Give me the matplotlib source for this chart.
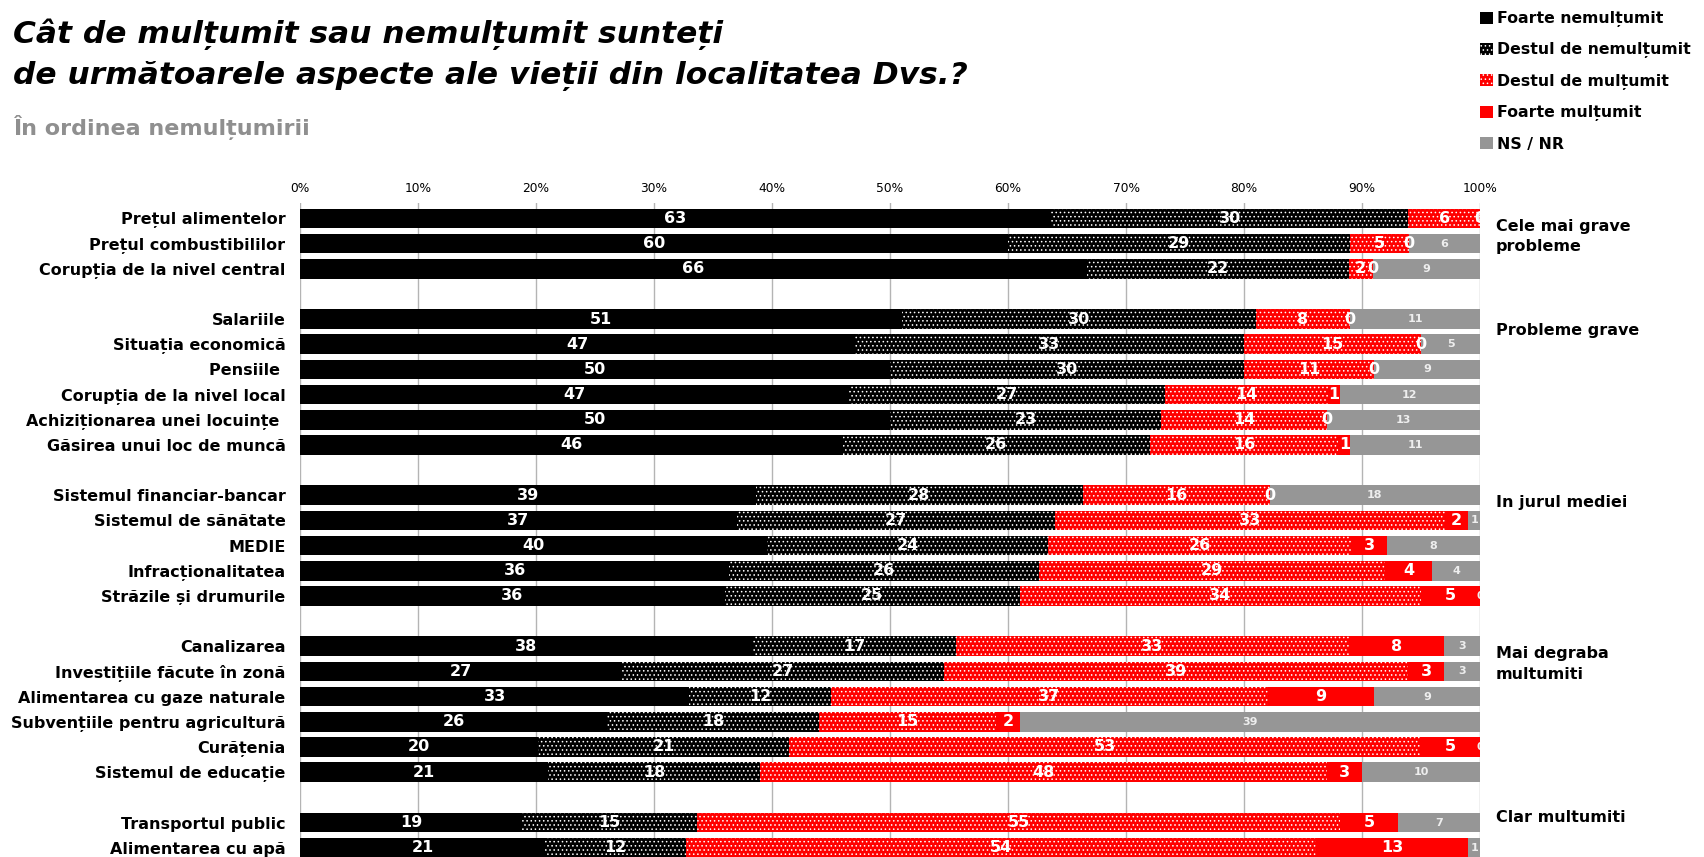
import numpy as np
import matplotlib.pyplot as plt
from matplotlib.patches import Patch

plt.rcParams['font.family'] = ['DejaVu Sans']
plt.rcParams['hatch.linewidth'] = 0.6

# rows from top to bottom, split into groups
categories = ['Prețul alimentelor', 'Prețul combustibililor', 'Corupția de la nivel central',
              'Salariile', 'Situația economică', 'Pensiile ', 'Corupția de la nivel local',
              'Achiziționarea unei locuințe ', 'Găsirea unui loc de muncă',
              'Sistemul financiar-bancar', 'Sistemul de sănătate', 'MEDIE', 'Infracționalitatea',
              'Străzile și drumurile',
              'Canalizarea', 'Investițiile făcute în zonă', 'Alimentarea cu gaze naturale',
              'Subvențiile pentru agricultură', 'Curățenia', 'Sistemul de educație',
              'Transportul public', 'Alimentarea cu apă']
group_sizes = [3, 6, 5, 6, 2]
group_names = ['Cele mai grave\nprobleme', 'Probleme grave', 'In jurul mediei',
               'Mai degraba\nmultumiti', 'Clar multumiti']

foarte_nem = [63, 60, 66, 51, 47, 50, 47, 50, 46, 39, 37, 40, 36, 36, 38, 27, 33, 26, 20, 21, 19, 21]
destul_nem = [30, 29, 22, 30, 33, 30, 27, 23, 26, 28, 27, 24, 26, 25, 17, 27, 12, 18, 21, 18, 15, 12]
destul_mul = [6, 5, 2, 8, 15, 11, 14, 14, 16, 16, 33, 26, 29, 34, 33, 39, 37, 15, 53, 48, 55, 54]
foarte_mul = [0, 0, 0, 0, 0, 0, 1, 0, 1, 0, 2, 3, 4, 5, 8, 3, 9, 2, 5, 3, 5, 13]
ns_nr = [0, 6, 9, 11, 5, 9, 12, 13, 11, 18, 1, 8, 4, 0, 3, 3, 9, 39, 0, 10, 7, 1]

series_names = ['Foarte nemulțumit', 'Destul de nemulțumit', 'Destul de mulțumit',
                'Foarte mulțumit', 'NS / NR']
colors = ['#000000', '#000000', '#ff0000', '#ff0000', '#969696']
hatches = [None, '....', '....', None, None]

# y slot for each row: one empty slot between groups
ypos = []
slot = 0
for g in group_sizes:
    ypos.extend(range(slot, slot + g))
    slot += g + 1
ypos = np.array(ypos)

data = np.array([foarte_nem, destul_nem, destul_mul, foarte_mul, ns_nr], dtype=float)
pct = data / data.sum(axis=0) * 100

fig = plt.figure(figsize=(17.04, 8.57), dpi=100)
ax = fig.add_axes([300 / 1704, 0, 1180 / 1704, 654 / 857])

left = np.zeros(len(categories))
for i in range(5):
    ax.barh(ypos, pct[i], left=left, height=0.78, color=colors[i],
            hatch=hatches[i], edgecolor='white', linewidth=0, zorder=2)
    for y, l, w, v in zip(ypos, left, pct[i], data[i]):
        if i == 4:
            ax.text(l + w / 2, y, '%d' % v, ha='center', va='center', color='#eeeeee',
                    fontsize=8, fontweight='bold', clip_on=True, zorder=3)
        else:
            ax.text(l + w / 2, y, '%d' % v, ha='center', va='center', color='white',
                    fontsize=11.5, fontweight='bold', clip_on=True, zorder=3)
    left += pct[i]

ax.set_xlim(0, 100)
ax.set_ylim(25.37, -0.61)
ax.set_xticks(np.arange(0, 101, 10))
ax.set_xticklabels(['%d%%' % t for t in range(0, 101, 10)])
ax.xaxis.tick_top()
ax.tick_params(axis='x', length=0, pad=6, labelsize=8.8)
ax.set_yticks(ypos)
ax.set_yticklabels(categories, fontsize=11.5, fontweight='bold')
ax.tick_params(axis='y', length=0, pad=10.5)
ax.grid(axis='x', color='#b4b4b4', linewidth=1.0, zorder=0)
ax.set_axisbelow(True)
for s in ax.spines.values():
    s.set_visible(False)

# group names on the right
name_y = [0.72, 4.45, 11.3, 17.7, 23.8]
for name, y in zip(group_names, name_y):
    ax.text(1.0136, y, name, transform=ax.get_yaxis_transform(), ha='left', va='center',
            fontsize=11.5, fontweight='bold', linespacing=1.45)

fig.text(13 / 1704, 1 - 18 / 857,
         'Cât de mulțumit sau nemulțumit sunteți\nde următoarele aspecte ale vieții din localitatea Dvs.?',
         ha='left', va='top', fontsize=22.5, fontweight='bold', fontstyle='italic',
         linespacing=1.52)
fig.text(13 / 1704, 1 - 127 / 857, 'În ordinea nemulțumirii', ha='left', va='center',
         fontsize=16, fontweight='bold', color='#8f8f8f')

handles = [Patch(facecolor=c, edgecolor='white', hatch=h, linewidth=0)
           for c, h in zip(colors, hatches)]
fig.legend(handles, series_names, loc='upper left', bbox_to_anchor=(1480 / 1704, 1 - 11 / 857),
           frameon=False, prop={'weight': 'bold', 'size': 11.3},
           handlelength=0.8, handleheight=0.8, handletextpad=0.3, labelspacing=0.98,
           borderpad=0, borderaxespad=0)

fig.savefig('out.png', dpi=100)
